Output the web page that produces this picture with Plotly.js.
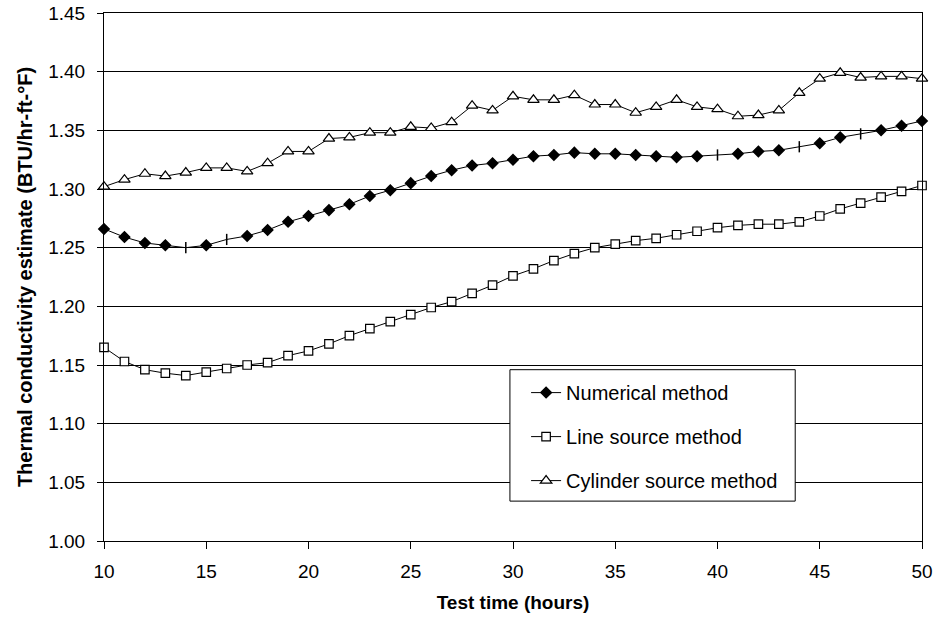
<!DOCTYPE html>
<html>
<head>
<meta charset="utf-8">
<script src="https://cdn.plot.ly/plotly-3.0.1.min.js"></script>
<style>html,body{margin:0;padding:0;background:#fff;}#chart{width:939px;height:625px;}</style>
</head>
<body>
<div id="chart"></div>
<script>
// Test time (hours)
var hours = [10,11,12,13,14,15,16,17,18,19,20,21,22,23,24,25,26,27,28,29,30,
             31,32,33,34,35,36,37,38,39,40,41,42,43,44,45,46,47,48,49,50];

var numerical = [1.266,1.259,1.254,1.252,1.250,1.252,1.257,1.260,1.265,1.272,1.277,
                 1.282,1.287,1.294,1.299,1.305,1.311,1.316,1.320,1.322,1.325,
                 1.328,1.329,1.331,1.330,1.330,1.329,1.328,1.327,1.328,1.329,
                 1.330,1.332,1.333,1.336,1.339,1.344,1.347,1.350,1.354,1.358];

var lineSource = [1.165,1.153,1.146,1.143,1.141,1.144,1.147,1.150,1.152,1.158,1.162,
                  1.168,1.175,1.181,1.187,1.193,1.199,1.204,1.211,1.218,1.226,
                  1.232,1.239,1.245,1.250,1.253,1.256,1.258,1.261,1.264,1.267,
                  1.269,1.270,1.270,1.272,1.277,1.283,1.288,1.293,1.298,1.303];

var cylinderSource = [1.302,1.308,1.313,1.311,1.314,1.318,1.318,1.315,1.322,1.332,1.332,
                      1.343,1.344,1.348,1.348,1.353,1.352,1.357,1.371,1.367,1.379,
                      1.376,1.376,1.380,1.372,1.372,1.365,1.370,1.376,1.370,1.368,
                      1.362,1.363,1.367,1.382,1.394,1.399,1.395,1.396,1.396,1.394];

// hours where the numerical marker is drawn as a short vertical dash
var numericalDashHours = [14,16,40,44,47];

var seriesNames = ['Numerical method','Line source method','Cylinder source method'];
var yTicks = [1.00,1.05,1.10,1.15,1.20,1.25,1.30,1.35,1.40,1.45];
var xTicks = [10,15,20,25,30,35,40,45,50];

var numSymbols = hours.map(function(h){ return numericalDashHours.indexOf(h) >= 0 ? 'line-ns' : 'diamond'; });

var FONT = 'Liberation Sans, Arial, sans-serif';

var traces = [
  {x: hours, y: numerical, name: seriesNames[0], type: 'scatter', mode: 'lines+markers',
   legendgroup: 'a', cliponaxis: false,
   line: {color: '#000', width: 1},
   marker: {symbol: numSymbols, size: 8, opacity: 1, color: '#000', line: {color: '#000', width: 1.5}}},
  {x: hours, y: lineSource, name: seriesNames[1], type: 'scatter', mode: 'lines+markers',
   legendgroup: 'b', cliponaxis: false,
   line: {color: '#000', width: 1},
   marker: {symbol: 'square', size: 8.5, opacity: 1, color: '#fff', line: {color: '#000', width: 1.2}}},
  {x: hours, y: cylinderSource, name: seriesNames[2], type: 'scatter', mode: 'lines+markers',
   legendgroup: 'c', cliponaxis: false,
   line: {color: '#000', width: 1},
   marker: {symbol: 'triangle-up', size: 10, opacity: 1, color: '#fff', line: {color: '#000', width: 1.2}}}
];

var layout = {
  width: 939, height: 625,
  margin: {l: 104, r: 17, t: 13, b: 84},
  paper_bgcolor: '#fff', plot_bgcolor: '#fff',
  font: {family: FONT, size: 19, color: '#000'},
  showlegend: true,
  legend: {x: 0.516, y: 0.318, xanchor: 'left', yanchor: 'top',
           bgcolor: 'rgba(0,0,0,0)', borderwidth: 0,
           traceorder: 'grouped', tracegroupgap: 15,
           font: {family: FONT, size: 20, color: '#000'}},
  shapes: [{type: 'rect', xref: 'x', yref: 'y', x0: 29.85, x1: 43.8, y0: 1.034, y1: 1.146,
            layer: 'between', fillcolor: '#fff', line: {color: '#000', width: 1}}],
  xaxis: {range: [10, 50], tickvals: xTicks, ticktext: xTicks.map(String),
          ticks: 'outside', ticklen: 7, tickcolor: '#000', ticklabelstandoff: 6,
          showline: true, linecolor: '#000', linewidth: 1, mirror: true,
          showgrid: false, zeroline: false,
          tickfont: {size: 19},
          title: {text: '<b>Test time (hours)</b>', font: {size: 19}, standoff: 14}},
  yaxis: {range: [1.0, 1.45], tickvals: yTicks, ticktext: yTicks.map(function(v){return v.toFixed(2);}),
          ticks: 'outside', ticklen: 6, tickcolor: '#000', ticklabelstandoff: 8,
          showline: true, linecolor: '#000', linewidth: 1, mirror: true,
          showgrid: true, gridcolor: '#000', gridwidth: 1, zeroline: false,
          tickfont: {size: 19},
          title: {text: '<b>Thermal conductivity estimate (BTU/hr-ft-°F)</b>', font: {size: 20}, standoff: 10}}
};

Plotly.newPlot('chart', traces, layout, {displayModeBar: false, staticPlot: true});
</script>
</body>
</html>
